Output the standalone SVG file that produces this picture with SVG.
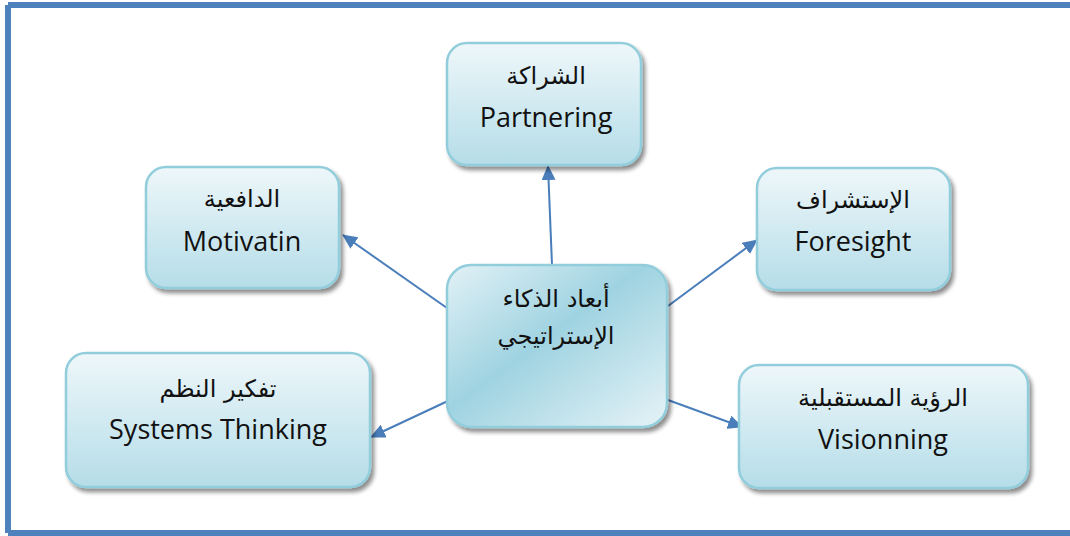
<svg xmlns="http://www.w3.org/2000/svg" width="1070" height="536" viewBox="0 0 1070 536">
  <defs>
    <linearGradient id="boxFill" x1="0" y1="0" x2="0" y2="1">
      <stop offset="0" stop-color="#eef7fa"/>
      <stop offset="1" stop-color="#b5dde8"/>
    </linearGradient>
    <linearGradient id="hubFill" x1="0" y1="0" x2="1" y2="1">
      <stop offset="0" stop-color="#e2f1f6"/>
      <stop offset="0.45" stop-color="#9fd3e1"/>
      <stop offset="1" stop-color="#e6f3f7"/>
    </linearGradient>
    <filter id="shadow" x="-10%" y="-10%" width="125%" height="130%">
      <feGaussianBlur in="SourceAlpha" stdDeviation="2"/>
      <feOffset dx="3" dy="4" result="b"/>
      <feComponentTransfer><feFuncA type="linear" slope="0.45"/></feComponentTransfer>
      <feMerge><feMergeNode/><feMergeNode in="SourceGraphic"/></feMerge>
    </filter>
    <marker id="arrow" markerWidth="15" markerHeight="14" refX="14" refY="7" orient="auto" markerUnits="userSpaceOnUse" viewBox="0 0 15 14">
      <path d="M0,0 L15,7 L0,14 z" fill="#4a7ebb"/>
    </marker>
  </defs>
  <style>
    .box { fill: url(#boxFill); stroke: #92cddc; stroke-width: 2.5; filter: url(#shadow); }
    .hub { fill: url(#hubFill); stroke: #92cddc; stroke-width: 2.5; filter: url(#shadow); }
    .en { font-family: "Open Sans", "Liberation Sans", sans-serif; font-size: 27px; fill: #111; text-anchor: middle; }
    .ar { font-family: "DejaVu Sans", "Liberation Sans", sans-serif; font-size: 24px; fill: #111; text-anchor: middle; direction: rtl; }
    .link { stroke: #4a7ebb; stroke-width: 2; fill: none; marker-end: url(#arrow); }
    .frame { fill: #4f81bd; }
  </style>

  <!-- page frame -->
  <rect class="frame" x="8" y="2" width="1062" height="6"/>
  <rect class="frame" x="5" y="5" width="6" height="528"/>
  <rect class="frame" x="8" y="530" width="1062" height="6"/>

  <g id="connectors">
    <line class="link" x1="552" y1="265" x2="548" y2="166"/>
    <line class="link" x1="447" y1="308" x2="343" y2="235"/>
    <line class="link" x1="668" y1="306" x2="757" y2="240"/>
    <line class="link" x1="668" y1="400" x2="742" y2="427"/>
    <line class="link" x1="450" y1="400" x2="371" y2="437"/>
  </g>

  <g id="partnering">
    <rect class="box" x="447" y="43" width="194" height="122" rx="20"/>
    <text class="ar" x="546" y="84">الشراكة</text>
    <text class="en" x="546" y="127">Partnering</text>
  </g>

  <g id="motivation">
    <rect class="box" x="146" y="167" width="193" height="121" rx="20"/>
    <text class="ar" x="242" y="207">الدافعية</text>
    <text class="en" x="242" y="251">Motivatin</text>
  </g>

  <g id="foresight">
    <rect class="box" x="757" y="168" width="193" height="122" rx="20"/>
    <text class="ar" x="853" y="208">الإستشراف</text>
    <text class="en" x="853" y="251">Foresight</text>
  </g>

  <g id="hub">
    <rect class="hub" x="447" y="265" width="220" height="162" rx="24"/>
    <text class="ar" x="556" y="307">أبعاد الذكاء</text>
    <text class="ar" x="556" y="344">الإستراتيجي</text>
  </g>

  <g id="systems-thinking">
    <rect class="box" x="66" y="353" width="304" height="134" rx="20"/>
    <text class="ar" x="218" y="397">تفكير النظم</text>
    <text class="en" x="218" y="439">Systems Thinking</text>
  </g>

  <g id="visioning">
    <rect class="box" x="739" y="365" width="289" height="123" rx="20"/>
    <text class="ar" x="883" y="406">الرؤية المستقبلية</text>
    <text class="en" x="883" y="449">Visionning</text>
  </g>
</svg>
